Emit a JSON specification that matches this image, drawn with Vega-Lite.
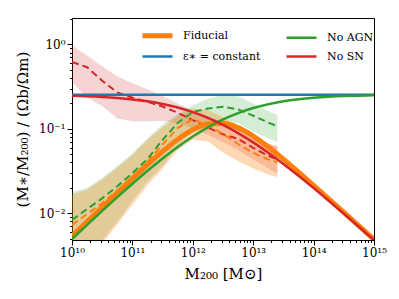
{
  "$schema": "https://vega.github.io/schema/vega-lite/v6.json",
  "width": 302,
  "height": 222,
  "autosize": {"type": "none"},
  "padding": {"left": 72, "top": 18, "right": 25, "bottom": 59},
  "background": "white",
  "config": {
    "view": {"stroke": "black", "strokeWidth": 1},
    "font": "DejaVu Serif",
    "axis": {"grid": false, "domainColor": "black", "tickColor": "black", "labelColor": "black", "titleColor": "black", "labelFont": "DejaVu Serif", "titleFont": "DejaVu Serif", "titleFontWeight": "normal", "labelFontSize": 12, "titleFontSize": 15, "labelOverlap": false, "labelBound": false, "labelFlush": false},
    "legend": {"orient": "none", "legendX": 74, "legendY": 6, "columns": 2, "direction": "vertical", "symbolType": "M-1.667,0H1.667", "symbolSize": 324, "labelFont": "DejaVu Serif", "labelFontSize": 11, "labelColor": "black", "labelOffset": 14, "columnPadding": 20, "rowPadding": -3.3, "padding": 0}
  },
  "datasets": {
    "model": [
      {"m": 1e10, "f": 0.00537, "s": "Fiducial"},
      {"m": 1.778e10, "f": 0.00796, "s": "Fiducial"},
      {"m": 3.162e10, "f": 0.01181, "s": "Fiducial"},
      {"m": 5.623e10, "f": 0.01748, "s": "Fiducial"},
      {"m": 1e11, "f": 0.02576, "s": "Fiducial"},
      {"m": 1.778e11, "f": 0.03764, "s": "Fiducial"},
      {"m": 3.162e11, "f": 0.05404, "s": "Fiducial"},
      {"m": 5.623e11, "f": 0.07491, "s": "Fiducial"},
      {"m": 1e12, "f": 0.09736, "s": "Fiducial"},
      {"m": 1.778e12, "f": 0.1139, "s": "Fiducial"},
      {"m": 3.162e12, "f": 0.1162, "s": "Fiducial"},
      {"m": 5.623e12, "f": 0.1032, "s": "Fiducial"},
      {"m": 1e13, "f": 0.0822, "s": "Fiducial"},
      {"m": 1.778e13, "f": 0.0611, "s": "Fiducial"},
      {"m": 3.162e13, "f": 0.0438, "s": "Fiducial"},
      {"m": 5.623e13, "f": 0.03074, "s": "Fiducial"},
      {"m": 1e14, "f": 0.02141, "s": "Fiducial"},
      {"m": 1.778e14, "f": 0.01485, "s": "Fiducial"},
      {"m": 3.162e14, "f": 0.01027, "s": "Fiducial"},
      {"m": 5.623e14, "f": 0.0071, "s": "Fiducial"},
      {"m": 1e15, "f": 0.0049, "s": "Fiducial"},
      {"m": 1e10, "f": 0.254, "s": "ε∗ = constant"},
      {"m": 1e11, "f": 0.254, "s": "ε∗ = constant"},
      {"m": 1e12, "f": 0.254, "s": "ε∗ = constant"},
      {"m": 1e13, "f": 0.254, "s": "ε∗ = constant"},
      {"m": 1e14, "f": 0.254, "s": "ε∗ = constant"},
      {"m": 1e15, "f": 0.254, "s": "ε∗ = constant"},
      {"m": 1e10, "f": 0.004957, "s": "No AGN"},
      {"m": 1.778e10, "f": 0.007289, "s": "No AGN"},
      {"m": 3.162e10, "f": 0.01067, "s": "No AGN"},
      {"m": 5.623e10, "f": 0.01551, "s": "No AGN"},
      {"m": 1e11, "f": 0.02236, "s": "No AGN"},
      {"m": 1.778e11, "f": 0.03184, "s": "No AGN"},
      {"m": 3.162e11, "f": 0.04457, "s": "No AGN"},
      {"m": 5.623e11, "f": 0.06098, "s": "No AGN"},
      {"m": 1e12, "f": 0.08105, "s": "No AGN"},
      {"m": 1.778e12, "f": 0.1042, "s": "No AGN"},
      {"m": 3.162e12, "f": 0.1291, "s": "No AGN"},
      {"m": 5.623e12, "f": 0.1537, "s": "No AGN"},
      {"m": 1e13, "f": 0.1764, "s": "No AGN"},
      {"m": 1.778e13, "f": 0.196, "s": "No AGN"},
      {"m": 3.162e13, "f": 0.2118, "s": "No AGN"},
      {"m": 5.623e13, "f": 0.2239, "s": "No AGN"},
      {"m": 1e14, "f": 0.2331, "s": "No AGN"},
      {"m": 1.778e14, "f": 0.2395, "s": "No AGN"},
      {"m": 3.162e14, "f": 0.2441, "s": "No AGN"},
      {"m": 5.623e14, "f": 0.2473, "s": "No AGN"},
      {"m": 1e15, "f": 0.2495, "s": "No AGN"},
      {"m": 1e10, "f": 0.2463, "s": "No SN"},
      {"m": 1.778e10, "f": 0.243, "s": "No SN"},
      {"m": 3.162e10, "f": 0.2384, "s": "No SN"},
      {"m": 5.623e10, "f": 0.2319, "s": "No SN"},
      {"m": 1e11, "f": 0.2232, "s": "No SN"},
      {"m": 1.778e11, "f": 0.2116, "s": "No SN"},
      {"m": 3.162e11, "f": 0.1968, "s": "No SN"},
      {"m": 5.623e11, "f": 0.1788, "s": "No SN"},
      {"m": 1e12, "f": 0.1578, "s": "No SN"},
      {"m": 1.778e12, "f": 0.1349, "s": "No SN"},
      {"m": 3.162e12, "f": 0.1115, "s": "No SN"},
      {"m": 5.623e12, "f": 0.0891, "s": "No SN"},
      {"m": 1e13, "f": 0.0691, "s": "No SN"},
      {"m": 1.778e13, "f": 0.052, "s": "No SN"},
      {"m": 3.162e13, "f": 0.0384, "s": "No SN"},
      {"m": 5.623e13, "f": 0.0278, "s": "No SN"},
      {"m": 1e14, "f": 0.01988, "s": "No SN"},
      {"m": 1.778e14, "f": 0.01407, "s": "No SN"},
      {"m": 3.162e14, "f": 0.00989, "s": "No SN"},
      {"m": 5.623e14, "f": 0.00691, "s": "No SN"},
      {"m": 1e15, "f": 0.00481, "s": "No SN"}
    ],
    "sim": [
      {"m": 1e10, "mid": 0.619, "lo": 0.358, "hi": 0.973, "s": "No SN"},
      {"m": 1.778e10, "mid": 0.537, "lo": 0.234, "hi": 0.741, "s": "No SN"},
      {"m": 3.162e10, "mid": 0.372, "lo": 0.186, "hi": 0.55, "s": "No SN"},
      {"m": 5.623e10, "mid": 0.269, "lo": 0.133, "hi": 0.417, "s": "No SN"},
      {"m": 1e11, "mid": 0.234, "lo": 0.123, "hi": 0.347, "s": "No SN"},
      {"m": 1.778e11, "mid": 0.209, "lo": 0.123, "hi": 0.295, "s": "No SN"},
      {"m": 3.162e11, "mid": 0.184, "lo": 0.124, "hi": 0.245, "s": "No SN"},
      {"m": 5.623e11, "mid": 0.155, "lo": 0.117, "hi": 0.2, "s": "No SN"},
      {"m": 1e12, "mid": 0.127, "lo": 0.102, "hi": 0.166, "s": "No SN"},
      {"m": 1.778e12, "mid": 0.1035, "lo": 0.0851, "hi": 0.141, "s": "No SN"},
      {"m": 3.162e12, "mid": 0.0861, "lo": 0.0692, "hi": 0.1175, "s": "No SN"},
      {"m": 5.623e12, "mid": 0.0759, "lo": 0.0562, "hi": 0.1, "s": "No SN"},
      {"m": 1e13, "mid": 0.0596, "lo": 0.0437, "hi": 0.0813, "s": "No SN"},
      {"m": 1.778e13, "mid": 0.0479, "lo": 0.0339, "hi": 0.0676, "s": "No SN"},
      {"m": 2.512e13, "mid": 0.0432, "lo": 0.0295, "hi": 0.0617, "s": "No SN"},
      {"m": 1e10, "mid": 0.00832, "lo": 0.00178, "hi": 0.018, "s": "No AGN"},
      {"m": 1.778e10, "mid": 0.01122, "lo": 0.00282, "hi": 0.01995, "s": "No AGN"},
      {"m": 3.162e10, "mid": 0.015, "lo": 0.00479, "hi": 0.0263, "s": "No AGN"},
      {"m": 5.623e10, "mid": 0.0209, "lo": 0.00794, "hi": 0.0363, "s": "No AGN"},
      {"m": 1e11, "mid": 0.0299, "lo": 0.0141, "hi": 0.0513, "s": "No AGN"},
      {"m": 1.778e11, "mid": 0.0437, "lo": 0.024, "hi": 0.0776, "s": "No AGN"},
      {"m": 3.162e11, "mid": 0.0741, "lo": 0.0363, "hi": 0.1122, "s": "No AGN"},
      {"m": 5.623e11, "mid": 0.1175, "lo": 0.0631, "hi": 0.148, "s": "No AGN"},
      {"m": 1e12, "mid": 0.1585, "lo": 0.0933, "hi": 0.1905, "s": "No AGN"},
      {"m": 1.778e12, "mid": 0.1738, "lo": 0.1122, "hi": 0.2265, "s": "No AGN"},
      {"m": 3.162e12, "mid": 0.182, "lo": 0.1202, "hi": 0.2512, "s": "No AGN"},
      {"m": 5.623e12, "mid": 0.17, "lo": 0.1175, "hi": 0.2427, "s": "No AGN"},
      {"m": 1e13, "mid": 0.1429, "lo": 0.0933, "hi": 0.1995, "s": "No AGN"},
      {"m": 1.778e13, "mid": 0.1189, "lo": 0.0776, "hi": 0.1622, "s": "No AGN"},
      {"m": 2.512e13, "mid": 0.1072, "lo": 0.0692, "hi": 0.1445, "s": "No AGN"},
      {"m": 1e10, "mid": 0.00726, "lo": 0.00158, "hi": 0.0166, "s": "Fiducial"},
      {"m": 1.778e10, "mid": 0.00977, "lo": 0.00251, "hi": 0.0191, "s": "Fiducial"},
      {"m": 3.162e10, "mid": 0.0132, "lo": 0.00437, "hi": 0.0251, "s": "Fiducial"},
      {"m": 5.623e10, "mid": 0.0186, "lo": 0.00741, "hi": 0.0347, "s": "Fiducial"},
      {"m": 1e11, "mid": 0.0268, "lo": 0.0126, "hi": 0.049, "s": "Fiducial"},
      {"m": 1.778e11, "mid": 0.0407, "lo": 0.0214, "hi": 0.0741, "s": "Fiducial"},
      {"m": 3.162e11, "mid": 0.0653, "lo": 0.0339, "hi": 0.1047, "s": "Fiducial"},
      {"m": 5.623e11, "mid": 0.1023, "lo": 0.0562, "hi": 0.1413, "s": "Fiducial"},
      {"m": 1e12, "mid": 0.1303, "lo": 0.0741, "hi": 0.1738, "s": "Fiducial"},
      {"m": 1.778e12, "mid": 0.1096, "lo": 0.0708, "hi": 0.166, "s": "Fiducial"},
      {"m": 3.162e12, "mid": 0.0871, "lo": 0.0525, "hi": 0.138, "s": "Fiducial"},
      {"m": 5.623e12, "mid": 0.0661, "lo": 0.0417, "hi": 0.1023, "s": "Fiducial"},
      {"m": 1e13, "mid": 0.0519, "lo": 0.0339, "hi": 0.0794, "s": "Fiducial"},
      {"m": 1.778e13, "mid": 0.0432, "lo": 0.0288, "hi": 0.0661, "s": "Fiducial"},
      {"m": 2.512e13, "mid": 0.0403, "lo": 0.0269, "hi": 0.0617, "s": "Fiducial"}
    ]
  },
  "encoding": {
    "x": {
      "field": "m", "type": "quantitative",
      "scale": {"type": "log", "domain": [1e10, 1e15], "nice": false},
      "axis": {
        "title": "M₂₀₀ [M⊙]",
        "titleY": 38, "titleBaseline": "alphabetic",
        "values": [1e10,2e10,3e10,4e10,5e10,6e10,7e10,8e10,9e10,1e11,2e11,3e11,4e11,5e11,6e11,7e11,8e11,9e11,1e12,2e12,3e12,4e12,5e12,6e12,7e12,8e12,9e12,1e13,2e13,3e13,4e13,5e13,6e13,7e13,8e13,9e13,1e14,2e14,3e14,4e14,5e14,6e14,7e14,8e14,9e14,1e15],
        "labelExpr": "datum.value == 1e10 ? '10¹⁰' : datum.value == 1e11 ? '10¹¹' : datum.value == 1e12 ? '10¹²' : datum.value == 1e13 ? '10¹³' : datum.value == 1e14 ? '10¹⁴' : datum.value == 1e15 ? '10¹⁵' : ''",
        "labelPadding": 2,
        "tickSize": {"condition": {"test": "abs(log(datum.value)/LN10 - round(log(datum.value)/LN10)) < 0.001", "value": 5}, "value": 2.5}
      }
    }
  },
  "layer": [
    {
      "data": {"name": "sim"},
      "mark": {"type": "area", "clip": true},
      "encoding": {
        "y": {"field": "lo", "type": "quantitative"},
        "y2": {"field": "hi"},
        "fill": {"field": "s", "type": "nominal", "scale": {"domain": ["Fiducial", "No AGN", "No SN"], "range": ["#ff7f0e", "#2ca02c", "#d62728"]}, "legend": null},
        "fillOpacity": {"field": "s", "type": "nominal", "scale": {"type": "ordinal", "domain": ["Fiducial", "No AGN", "No SN"], "range": [0.3, 0.2, 0.2]}, "legend": null}
      }
    },
    {
      "data": {"name": "sim"},
      "mark": {"type": "line", "clip": true, "strokeDash": [7, 4], "strokeWidth": 2},
      "encoding": {
        "y": {"field": "mid", "type": "quantitative"},
        "stroke": {"field": "s", "type": "nominal", "scale": {"domain": ["Fiducial", "No AGN", "No SN"], "range": ["#ff7f0e", "#2ca02c", "#d62728"]}, "legend": null}
      }
    },
    {
      "data": {"name": "model"},
      "transform": [{"filter": "datum.s == 'Fiducial'"}],
      "mark": {"type": "line", "clip": true, "interpolate": "monotone"},
      "encoding": {
        "y": {"field": "f", "type": "quantitative"},
        "color": {"field": "s", "type": "nominal", "scale": {"domain": ["Fiducial", "ε∗ = constant", "No AGN", "No SN"], "range": ["#ff7f0e", "#1f77b4", "#2ca02c", "#d62728"]}, "legend": {"title": null}},
        "strokeWidth": {"field": "s", "type": "nominal", "scale": {"type": "ordinal", "domain": ["Fiducial", "ε∗ = constant", "No AGN", "No SN"], "range": [5, 2.5, 2.5, 2.5]}, "legend": {"title": null}}
      }
    },
    {
      "data": {"name": "model"},
      "transform": [{"filter": "datum.s != 'Fiducial'"}],
      "mark": {"type": "line", "clip": true, "interpolate": "monotone"},
      "encoding": {
        "y": {
          "field": "f", "type": "quantitative",
          "scale": {"type": "log", "domain": [0.00482, 2.056], "nice": false},
          "axis": {
            "title": "(M∗/M₂₀₀) / (Ωb/Ωm)",
            "titleX": -50, "titleY": 111, "titleAngle": -90, "titleAlign": "center", "titleBaseline": "middle",
            "values": [0.005,0.006,0.007,0.008,0.009,0.01,0.02,0.03,0.04,0.05,0.06,0.07,0.08,0.09,0.1,0.2,0.3,0.4,0.5,0.6,0.7,0.8,0.9,1,2],
            "labelExpr": "datum.value == 1 ? '10⁰' : datum.value == 0.1 ? '10⁻¹' : datum.value == 0.01 ? '10⁻²' : ''",
            "labelPadding": 2,
            "tickSize": {"condition": {"test": "abs(log(datum.value)/LN10 - round(log(datum.value)/LN10)) < 0.001", "value": 5}, "value": 2.5}
          }
        },
        "color": {"field": "s", "type": "nominal", "scale": {"domain": ["Fiducial", "ε∗ = constant", "No AGN", "No SN"], "range": ["#ff7f0e", "#1f77b4", "#2ca02c", "#d62728"]}, "legend": {"title": null}},
        "strokeWidth": {"field": "s", "type": "nominal", "scale": {"type": "ordinal", "domain": ["Fiducial", "ε∗ = constant", "No AGN", "No SN"], "range": [5, 2.5, 2.5, 2.5]}, "legend": {"title": null}}
      }
    }
  ]
}
